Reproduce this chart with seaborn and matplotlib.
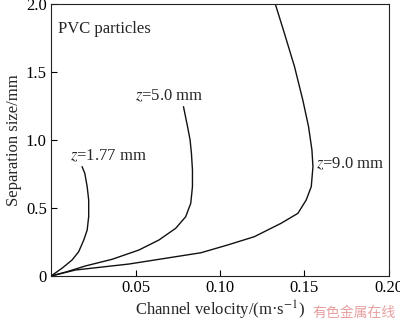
import matplotlib
matplotlib.use("Agg")
import matplotlib.pyplot as plt
import seaborn as sns
import pandas as pd

# Data (channel velocity m/s, separation size mm)
v_177 = [0.0, 0.0065, 0.0125, 0.0164, 0.0194, 0.0214, 0.0223, 0.0223, 0.0214, 0.0200, 0.0184]
s_177 = [0.0, 0.057, 0.118, 0.179, 0.265, 0.338, 0.436, 0.559, 0.657, 0.755, 0.804]

v_50 = [0.0, 0.0085, 0.0204, 0.0362, 0.0520, 0.0639, 0.0738, 0.0797, 0.0827, 0.0837, 0.0837, 0.0831, 0.0823, 0.0808, 0.0784]
s_50 = [0.0, 0.028, 0.074, 0.123, 0.191, 0.265, 0.351, 0.436, 0.535, 0.657, 0.779, 0.902, 1.0, 1.098, 1.245]

v_90 = [0.0, 0.0144, 0.0461, 0.0887, 0.1045, 0.1203, 0.1362, 0.1461, 0.1510, 0.1540, 0.1550, 0.1544, 0.1524, 0.1490, 0.1441, 0.1381, 0.1326]
s_90 = [0.0, 0.044, 0.088, 0.171, 0.228, 0.289, 0.388, 0.461, 0.559, 0.657, 0.804, 0.926, 1.098, 1.294, 1.539, 1.785, 2.005]

curve_labels = ["z=1.77 mm", "z=5.0 mm", "z=9.0 mm"]
x_ticks = [0.05, 0.10, 0.15, 0.20]
x_ticklabels = ["0.05", "0.10", "0.15", "0.20"]
y_ticks = [0, 0.5, 1.0, 1.5, 2.0]
y_ticklabels = ["0", "0.5", "1.0", "1.5", "2.0"]

sns.set_style("ticks")
plt.rcParams["font.family"] = ["Liberation Serif", "DejaVu Serif"]
plt.rcParams["mathtext.fontset"] = "stix"

fig = plt.figure(figsize=(4.0, 3.23), dpi=100)
ax = fig.add_axes([0.1275, 0.1455, 0.845, 0.842])

frames = []
for v, s, lab in zip([v_177, v_50, v_90], [s_177, s_50, s_90], curve_labels):
    frames.append(pd.DataFrame({"v": v, "s": s, "curve": lab}))
df = pd.concat(frames, ignore_index=True)

for lab in curve_labels:
    sub = df[df["curve"] == lab]
    sns.lineplot(data=sub, x="v", y="s", sort=False, estimator=None,
                 color="#111111", linewidth=1.0, ax=ax, legend=False)

ax.set_xlim(0, 0.20)
ax.set_ylim(0, 2.0)
ax.set_xticks(x_ticks)
ax.set_xticklabels(x_ticklabels)
ax.set_yticks(y_ticks)
ax.set_yticklabels(y_ticklabels)
ax.tick_params(direction="in", length=4, width=0.8, labelsize=12, pad=3, colors="black")
for sp in ax.spines.values():
    sp.set_linewidth(0.8)
    sp.set_color("#222222")

ax.set_xlabel("Channel velocity/(m·s$^{-1}$)", fontsize=12, labelpad=2)
ax.set_ylabel("Separation size/mm", fontsize=12, labelpad=3)

ax.text(0.004, 1.82, "PVC particles", fontsize=12, va="center", ha="left")
ax.text(0.0110, 0.88, "$z$=1.77 mm", fontsize=12, va="center", ha="left")
ax.text(0.0495, 1.32, "$z$=5.0 mm", fontsize=12, va="center", ha="left")
ax.text(0.1570, 0.82, "$z$=9.0 mm", fontsize=12, va="center", ha="left")

fig.text(0.78, 0.03, "有色金属在线", fontsize=10, color="#e8a0a0",
         family=["Noto Sans CJK SC", "DejaVu Sans"], va="center", ha="left")

fig.savefig("out.png", dpi=100)
